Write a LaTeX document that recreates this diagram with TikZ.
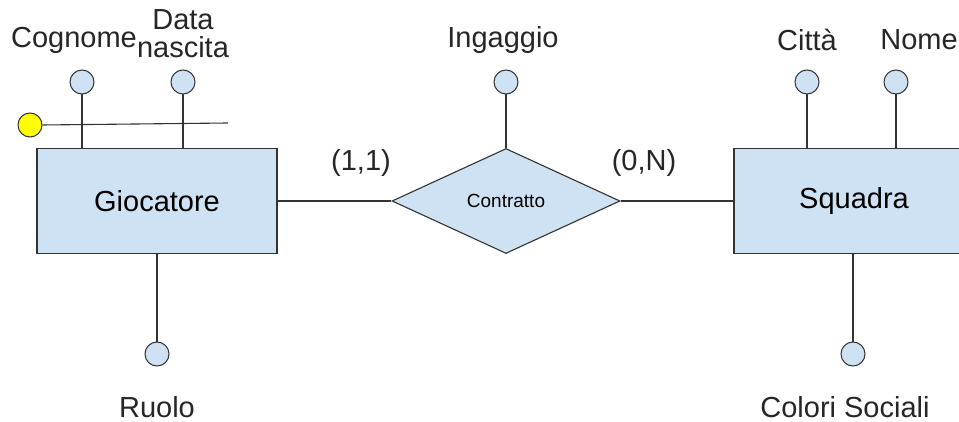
\documentclass[tikz,border=0pt]{standalone}
\usepackage{fontspec}
\setmainfont{Liberation Sans}
\usepackage{xcolor}
\usetikzlibrary{positioning,shapes.geometric}

\definecolor{erblue}{HTML}{CFE2F3}
\definecolor{erline}{HTML}{333333}
\definecolor{keyyellow}{HTML}{FFFF00}

\begin{document}
\begin{tikzpicture}[
    x=1pt, y=-1pt,
    ent/.style={draw=erline, fill=erblue, line width=1.1pt, minimum width=240pt,
                minimum height=105pt, font=\fontsize{29}{33}\selectfont},
    rel/.style={diamond, draw=erline, fill=erblue, line width=1.1pt, inner sep=0pt,
                minimum width=228pt, minimum height=105pt,
                font=\fontsize{19}{22}\selectfont},
    attr/.style={circle, draw=erline, fill=erblue, line width=1pt, inner sep=0pt,
                 minimum size=24pt},
    keyattr/.style={attr, fill=keyyellow},
    lbl/.style={inner sep=0pt, text=black!85, font=\fontsize{29}{33}\selectfont},
    conn/.style={draw=erline, line width=1.1pt},
  ]
  \clip (0,0) rectangle (959,422);
  \useasboundingbox (0,0) rectangle (959,422);

  % Entities and relationship
  \node[ent] (gioc) at (157,201) {Giocatore};
  \node[rel] (contr) at (506,201) {Contratto};
  \node[ent] (squad) at (854,201) {Squadra};

  % Attributes of Giocatore
  \node[attr]    (cogn)  at (82,82)   {};
  \node[attr]    (datan) at (183,82)  {};
  \node[keyattr] (gkey)  at (30,125)  {};
  \coordinate    (gkeyend) at (228,123);
  \node[attr]    (ruolo) at (157,354) {};
  \node[lbl] (cognl)  at (74,40)   {Cognome};
  \node[lbl, align=center] (datal) at (183,34) {Data\\[-5pt]nascita};
  \node[lbl] (ruolol) at (157,407) {Ruolo};

  % Attribute of Contratto
  \node[attr] (ingag)  at (506,82) {};
  \node[lbl]  (ingagl) at (503,40) {Ingaggio};

  % Attributes of Squadra
  \node[attr] (citta)  at (807,82)  {};
  \node[attr] (nome)   at (896,82)  {};
  \node[attr] (colori) at (853,354) {};
  \node[lbl] (cittal)  at (807,40)  {Città};
  \node[lbl] (nomel)   at (919,40)  {Nome};
  \node[lbl] (coloril) at (845,407) {Colori Sociali};

  % Cardinalities
  \node[lbl] (card1) at (361,163) {(1,1)};
  \node[lbl] (card2) at (644,163) {(0,N)};

  % Connectors
  \draw[conn] (gioc.east) -- (contr.west);
  \draw[conn] (contr.east) -- (squad.west);
  \draw[conn] (ingag.south) -- (contr.north);
  \draw[conn] (cogn.south) -- (cogn.south |- gioc.north);
  \draw[conn] (datan.south) -- (datan.south |- gioc.north);
  \draw[conn] (gkey.east) -- (gkeyend);
  \draw[conn] (gioc.south) -- (ruolo.north);
  \draw[conn] (citta.south) -- (citta.south |- squad.north);
  \draw[conn] (nome.south) -- (nome.south |- squad.north);
  \draw[conn] (colori.north |- squad.south) -- (colori.north);
\end{tikzpicture}
\end{document}
